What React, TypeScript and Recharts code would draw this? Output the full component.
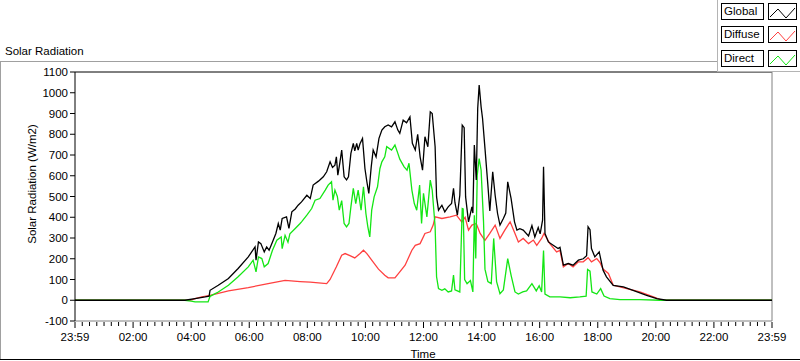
import React from "react";
import { LineChart, Line, XAxis, YAxis, Legend, ReferenceLine } from "recharts";

const FONT = '"Liberation Sans", Arial, sans-serif';

// minutes since 23:59 -> W/m2
const globalPts: [number, number][] = [
  [0, 0], [227, 0], [248, 8], [269, 16], [277, 20], [279, 48], [296, 72], [317, 105], [337, 153], [358, 209],
  [372, 257], [374, 193], [379, 281], [384, 273], [391, 233], [396, 257], [401, 241], [408, 281], [415, 322], [420, 370],
  [424, 338], [428, 394], [437, 402], [442, 346], [448, 426], [455, 440], [461, 458], [468, 474], [479, 506], [486, 490],
  [492, 555], [503, 574], [513, 595], [520, 619], [527, 667], [532, 640], [537, 651], [540, 691], [543, 603], [547, 660],
  [551, 724], [556, 595], [561, 580], [565, 595], [570, 708], [575, 756], [578, 720], [582, 756], [585, 724], [589, 756],
  [594, 780], [599, 635], [603, 571], [607, 515], [612, 643], [616, 724], [622, 691], [628, 780], [634, 820], [640, 836],
  [647, 845], [654, 836], [661, 860], [667, 820], [671, 804], [678, 868], [685, 855], [692, 884], [697, 756], [703, 724],
  [708, 800], [713, 691], [718, 627], [723, 788], [729, 740], [734, 908], [738, 900], [744, 740], [747, 498], [751, 434],
  [758, 458], [764, 426], [771, 450], [778, 466], [782, 539], [785, 470], [790, 410], [795, 506], [800, 844], [804, 832],
  [807, 498], [813, 378], [820, 450], [822, 420], [825, 748], [829, 580], [832, 925], [835, 1037], [839, 932], [842, 876],
  [847, 732], [853, 555], [857, 430], [863, 619], [868, 506], [873, 418], [878, 362], [885, 394], [890, 420], [894, 571],
  [901, 490], [908, 378], [913, 338], [919, 345], [926, 338], [937, 310], [944, 360], [950, 305], [957, 350], [961, 320],
  [966, 386], [968, 643], [971, 322], [978, 281], [988, 265], [998, 249], [1002, 255], [1009, 169], [1019, 177], [1029, 169],
  [1040, 193], [1050, 200], [1057, 215], [1060, 354], [1064, 340], [1067, 249], [1074, 209], [1083, 233], [1091, 145], [1098, 113],
  [1112, 72], [1133, 64], [1153, 48], [1181, 24], [1202, 8], [1222, 0], [1440, 0],
];

const diffusePts: [number, number][] = [
  [0, 0], [238, 0], [248, 8], [262, 16], [279, 24], [317, 45], [358, 61], [399, 80], [434, 96], [465, 90],
  [486, 87], [520, 80], [527, 100], [540, 161], [551, 217], [558, 225], [568, 215], [578, 204], [589, 225], [596, 241],
  [603, 225], [613, 193], [627, 150], [640, 121], [647, 108], [661, 108], [671, 137], [682, 169], [696, 241], [703, 265],
  [713, 273], [723, 322], [734, 330], [740, 362], [744, 402], [758, 394], [775, 402], [788, 410], [799, 378], [806, 400],
  [813, 338], [820, 362], [829, 370], [837, 322], [847, 289], [857, 322], [868, 362], [878, 298], [888, 338], [899, 378],
  [909, 322], [916, 281], [926, 298], [937, 273], [947, 290], [954, 265], [964, 298], [969, 322], [981, 273], [995, 233],
  [1002, 240], [1009, 161], [1019, 177], [1029, 161], [1040, 185], [1050, 185], [1060, 205], [1067, 185], [1078, 201], [1085, 180],
  [1091, 150], [1102, 129], [1112, 72], [1140, 56], [1167, 40], [1195, 16], [1209, 3], [1219, 0], [1440, 0],
];

const directPts: [number, number][] = [
  [0, 0], [227, 0], [240, -4], [248, -8], [275, -8], [279, 19], [296, 40], [317, 72], [337, 113], [358, 161],
  [368, 193], [374, 137], [379, 209], [386, 201], [391, 161], [399, 177], [408, 241], [417, 289], [426, 305], [428, 249],
  [434, 313], [440, 280], [444, 320], [455, 346], [465, 370], [468, 378], [479, 410], [489, 442], [496, 482], [506, 490],
  [517, 531], [523, 555], [530, 571], [533, 482], [537, 531], [542, 500], [546, 434], [551, 480], [556, 370], [561, 354],
  [566, 370], [570, 450], [575, 539], [580, 466], [585, 531], [591, 434], [596, 547], [601, 418], [605, 354], [609, 305],
  [613, 434], [618, 498], [625, 547], [630, 635], [634, 667], [640, 691], [644, 740], [654, 724], [661, 748], [667, 708],
  [671, 680], [680, 643], [686, 627], [690, 660], [696, 531], [701, 466], [706, 434], [712, 555], [716, 370], [720, 515],
  [727, 402], [734, 579], [738, 531], [744, 354], [747, 113], [751, 56], [758, 48], [764, 55], [771, 40], [778, 45],
  [782, 121], [785, 50], [795, 40], [800, 442], [802, 440], [805, 100], [810, 80], [817, 95], [822, 40], [825, 410],
  [828, 201], [831, 603], [835, 683], [839, 627], [844, 380], [847, 150], [853, 90], [860, 80], [865, 298], [871, 90],
  [878, 32], [885, 50], [894, 201], [901, 120], [909, 40], [916, 30], [925, 40], [933, 45], [944, 80], [953, 45],
  [959, 70], [964, 40], [968, 240], [971, 30], [981, 16], [1002, 16], [1023, 12], [1043, 16], [1056, 20], [1059, 148],
  [1064, 140], [1068, 40], [1078, 30], [1086, 56], [1093, 20], [1105, 8], [1126, 3], [1167, 3], [1209, 0], [1440, 0],
];

const seriesNames = ["Global", "Diffuse", "Direct"];
const seriesColors = ["#000000", "#ff4040", "#14e614"];
const drawOrder = [1, 2, 0]; // black ends up on top, as in the original

const hourLabels = ["23:59", "02:00", "04:00", "06:00", "08:00", "10:00", "12:00", "14:00", "16:00", "18:00", "20:00", "22:00", "23:59"];
const yTicks = [-100, 0, 100, 200, 300, 400, 500, 600, 700, 800, 900, 1000, 1100];
const xTicks = Array.from({ length: 97 }, (_, i) => i * 15); // minor tick every 15 min

const toRows = (pts: [number, number][]) => pts.map(([t, v]) => ({ t, v }));

const TimeTick = (props: any) => {
  const { x, y, payload } = props;
  const major = payload.value % 120 === 0;
  return (
    <g>
      <line x1={x} x2={x} y1={y + 1} y2={y + (major ? 7 : 5)} stroke="#000" />
      {major && (
        <text x={x} y={y + 20} textAnchor="middle" fontSize={11.5} fontFamily={FONT} fill="#000">
          {hourLabels[payload.value / 120]}
        </text>
      )}
    </g>
  );
};

const LegendBox = () => (
  <div
    style={{
      width: 83,
      height: 72,
      background: "#fff",
      borderLeft: "1px solid #b4b4b4",
      borderBottom: "1px solid #b4b4b4",
      boxSizing: "border-box",
      position: "relative",
    }}
  >
    {seriesNames.map((name, i) => (
      <React.Fragment key={name}>
        <div
          style={{
            position: "absolute",
            left: 3,
            top: 3 + i * 23.3,
            width: 43,
            height: 17,
            border: "1px solid #000",
            boxSizing: "border-box",
            fontFamily: FONT,
            fontSize: 11.5,
            lineHeight: "15px",
            paddingLeft: 2,
            color: "#000",
            textAlign: "left",
          }}
        >
          {name}
        </div>
        <svg
          width={29}
          height={17}
          style={{ position: "absolute", left: 50, top: 3 + i * 23.3, border: "1px solid #000", boxSizing: "border-box" }}
        >
          <polyline points="1,13 9,5 17,14 26,4" fill="none" stroke={seriesColors[i]} strokeWidth={1} />
        </svg>
      </React.Fragment>
    ))}
  </div>
);

export default function App() {
  const data = [toRows(globalPts), toRows(diffusePts), toRows(directPts)];
  return (
    <div style={{ position: "absolute", left: 0, top: 0, width: 800, height: 361, background: "#fff" }}>
      <LineChart width={800} height={361} margin={{ top: 72, right: 28, bottom: 15, left: 30 }}>
        <line x1={0} x2={717} y1={61.5} y2={61.5} stroke="#a0a0a0" />
        <line x1={0.5} x2={0.5} y1={61} y2={359} stroke="#a0a0a0" />
        <line x1={0} x2={800} y1={359.5} y2={359.5} stroke="#000" />
        <text x={5} y={55} fontSize={11.5} fontFamily={FONT} fill="#000">
          Solar Radiation
        </text>
        <XAxis
          type="number"
          dataKey="t"
          domain={[0, 1440]}
          ticks={xTicks}
          interval={0}
          tickSize={0}
          tickMargin={0}
          tickLine={false}
          axisLine={{ stroke: "#808080" }}
          tick={<TimeTick />}
          height={25}
          allowDuplicatedCategory={false}
          label={() => (
            <text x={423} y={358} textAnchor="middle" fontSize={11.5} fontFamily={FONT} fill="#000">
              Time
            </text>
          )}
        />
        <YAxis
          type="number"
          domain={[-100, 1100]}
          ticks={yTicks}
          interval={0}
          width={45}
          tickSize={5}
          tickMargin={2}
          axisLine={{ stroke: "#000" }}
          tickLine={{ stroke: "#000" }}
          tick={{ fontSize: 11.5, fontFamily: FONT, fill: "#000" }}
          label={() => (
            <text
              x={36}
              y={184}
              textAnchor="middle"
              fontSize={11.5}
              fontFamily={FONT}
              fill="#000"
              transform="rotate(-90 36 184)"
            >
              Solar Radiation (W/m2)
            </text>
          )}
        />
        <ReferenceLine y={1100} stroke="#000" />
        <ReferenceLine x={1440} stroke="#808080" />
        {drawOrder.map((i) => (
          <Line
            key={seriesNames[i]}
            name={seriesNames[i]}
            data={data[i]}
            dataKey="v"
            type="linear"
            stroke={seriesColors[i]}
            strokeWidth={1.3}
            dot={false}
            activeDot={false}
            isAnimationActive={false}
          />
        ))}
        <Legend
          layout="vertical"
          align="center"
          verticalAlign="middle"
          wrapperStyle={{ position: "absolute", left: 717, top: 0, width: 83, height: 72 }}
          content={() => <LegendBox />}
        />
      </LineChart>
    </div>
  );
}
